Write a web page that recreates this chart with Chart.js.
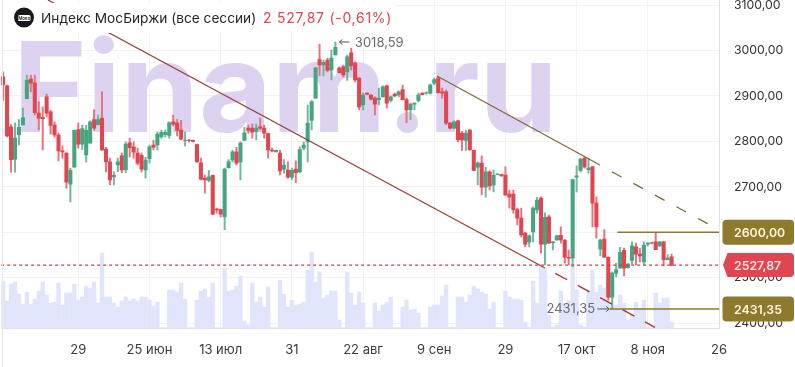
<!DOCTYPE html>
<html>
<head>
<meta charset="utf-8">
<title>Индекс МосБиржи</title>
<script src="https://cdn.jsdelivr.net/npm/chart.js@4/dist/chart.umd.min.js"></script>
<style>
html, body { margin: 0; padding: 0; background: #fff; }
canvas { display: block; }
</style>
</head>
<body>
<canvas id="candles" width="795" height="367"></canvas>
<script>
var opens = [
    2942,2922,2832,2761,2815,2836,2894,2937,2929,2862,
    2853,2898,2865,2836,2814,2779,2774,2706,2743,2826,
    2794,2770,2796,2848,2837,2851,2783,2755,2722,2748,
    2768,2738,2797,2788,2774,2769,2737,2762,2792,2792,
    2810,2815,2813,2843,2840,2825,2802,2803,2802,2793,
    2753,2719,2714,2725,2651,2650,2634,2742,2759,2777,
    2755,2802,2829,2829,2822,2832,2829,2817,2781,2777,
    2774,2739,2737,2721,2739,2733,2785,2799,2846,2895,
    2980,2968,2979,2957,2990,2961,2964,2953,2995,2972,
    2939,2880,2906,2902,2895,2892,2898,2922,2890,2904,
    2902,2914,2892,2870,2882,2890,2906,2906,2906,2928,
    2939,2909,2909,2840,2829,2845,2818,2802,2825,2780,
    2743,2752,2699,2733,2704,2727,2727,2726,2684,2684,
    2650,2631,2598,2579,2601,2649,2675,2574,2634,2577,
    2583,2593,2583,2545,2543,2721,2736,2763,2738,2744,
    2664,2563,2585,2545,2457,2510,2521,2560,2522,2538,
    2568,2552,2535,2574,2577,2579,2570,2579,2540,2546
];
var closes = [
    2924,2812,2760,2807,2831,2852,2934,2928,2863,2851,
    2850,2862,2835,2814,2779,2777,2710,2736,2824,2794,
    2828,2824,2843,2829,2848,2781,2755,2715,2725,2755,
    2737,2794,2786,2776,2752,2739,2759,2788,2787,2816,
    2820,2820,2841,2838,2824,2805,2803,2802,2800,2755,
    2717,2715,2722,2640,2649,2640,2739,2755,2777,2752,
    2796,2819,2824,2820,2829,2829,2818,2781,2779,2780,
    2735,2748,2721,2736,2731,2782,2792,2840,2887,2962,
    2968,2974,2956,2983,3007,2951,2946,2986,2966,2935,
    2876,2902,2904,2893,2882,2895,2920,2884,2898,2900,
    2909,2892,2869,2882,2884,2902,2903,2907,2924,2936,
    2907,2906,2840,2829,2843,2804,2803,2818,2781,2736,
    2752,2699,2733,2702,2725,2728,2724,2682,2677,2650,
    2631,2594,2574,2592,2653,2671,2574,2633,2576,2579,
    2592,2583,2545,2543,2716,2724,2761,2744,2741,2664,
    2612,2583,2545,2457,2510,2518,2556,2521,2530,2570,
    2552,2548,2572,2576,2576,2562,2579,2540,2543,2527.87
];
var highs = [
    2953,2924,2837,2840,2848,2873,2946,2946,2946,2887,
    2876,2904,2868,2843,2818,2790,2775,2741,2825,2840,
    2836,2835,2845,2870,2858,2909,2787,2763,2733,2763,
    2775,2799,2807,2799,2785,2774,2765,2792,2802,2821,
    2825,2825,2843,2858,2848,2846,2821,2804,2803,2794,
    2763,2726,2736,2726,2653,2651,2741,2760,2781,2787,
    2799,2831,2836,2838,2838,2851,2836,2818,2785,2781,
    2781,2760,2755,2741,2757,2788,2799,2880,2890,2963,
    3014,2979,2983,3001,3018.59,2964,2968,2990,3005,2975,
    2940,2906,2907,2903,2898,2917,2922,2924,2900,2906,
    2911,2924,2895,2884,2885,2906,2907,2909,2926,2939,
    2942,2917,2913,2842,2845,2847,2822,2825,2826,2781,
    2755,2768,2743,2735,2737,2729,2728,2744,2693,2693,
    2653,2653,2600,2594,2656,2677,2678,2643,2638,2580,
    2594,2612,2584,2561,2717,2746,2763,2765,2763,2745,
    2678,2585,2606,2546,2513,2532,2567,2565,2531,2579,
    2576,2565,2579,2577,2578,2600,2580,2580,2551,2552
];
var lows = [
    2890,2810,2732,2732,2792,2836,2894,2909,2858,2825,
    2781,2854,2816,2809,2757,2763,2697,2667,2743,2785,
    2782,2754,2796,2824,2836,2780,2733,2704,2704,2733,
    2731,2731,2766,2763,2748,2733,2719,2752,2781,2781,
    2807,2809,2807,2834,2812,2803,2790,2799,2799,2754,
    2715,2686,2711,2639,2642,2633,2606,2741,2755,2748,
    2715,2802,2818,2807,2803,2825,2807,2763,2777,2777,
    2726,2730,2719,2715,2709,2731,2781,2755,2825,2895,
    2944,2944,2953,2935,2990,2950,2942,2934,2957,2931,
    2869,2869,2902,2891,2858,2880,2898,2873,2887,2898,
    2898,2891,2841,2848,2869,2887,2902,2904,2904,2924,
    2906,2895,2837,2827,2827,2799,2780,2780,2781,2735,
    2704,2682,2677,2693,2689,2726,2723,2680,2653,2642,
    2616,2590,2568,2568,2579,2642,2554,2528,2576,2561,
    2582,2576,2532,2528,2524,2689,2733,2741,2730,2612,
    2587,2548,2544,2451,2431.35,2502,2521,2504,2521,2530,
    2528,2535,2528,2570,2575,2562,2569,2526,2539,2526
];
var volumes = [
    47,27,44,46,34,24,36,24,29,37,
    46,33,25,26,45,23,35,35,44,28,
    31,42,40,46,25,75,31,31,25,21,
    27,31,27,29,27,31,31,28,22,26,
    0.5,0.5,38,38,36,45,29,0.5,0.5,28,
    37,39,31,45,0.5,0.5,60,37,38,42,
    52,7,3,45,26,31,21,41,0.5,0.5,
    48,34,21,28,23,24,26,58,76,46,
    56,30,33,37,37,8,0.5,56,35,23,
    36,25,0.5,0.5,25,17,23,26,31,0.5,
    0.5,21,28,18,19,15,0.5,0.5,21,23,
    23,32,43,1,1,31,31,26,33,42,
    39,36,34,19,26,0.5,0.5,37,31,29,
    29,28,6,1,47,25,61,60,13,1,
    3,37,25,28,62,38,3,1,37,58,
    36,43,40,33,23,23,33,25,8,13,
    26,20,28,1,1,35,25,30,30,6
];

var xTickIndex = [19,37,55,73,91,109,127,145,163,181];
var xTickLabels = ['29','25 июн','13 июл','31','22 авг','9 сен','29','17 окт','8 ноя','26'];
var yTicks = [3100,3000,2900,2800,2700,2600,2500,2400];

// trend lines, as [bar index, price]
var redSolid = [[11.34,3111],[137,2521.4]];
var redDashed = [[139.6,2509.7],[164.8,2391]];
var brownSolid = [[109.7,2943.8],[150.9,2748]];
var brownDashed = [[153.9,2733.2],[179.2,2613.8]];
var resistance = [[155.3,2600],[181.1,2600]];
var support = [[153.4,2431.35],[181.1,2431.35]];

var lastPrice = 2527.87;
var highIndex = 84, highPrice = 3018.59;
var lowIndex = 154, lowPrice = 2431.35;

var RED = '#DF4650', GREEN = '#46A480';
var RED_WICK = '#E8717A', GREEN_WICK = '#6DB89C';
var OLIVE = '#8E7A2C';

function fmt(v){
    return v.toFixed(2).replace('.',',');
}

function points(pairs){
    return pairs.map(p => ({x:p[0],y:p[1]}));
}

function lineSet(pairs,color,width,dash){
    return {
        type:'line',
        data:points(pairs),
        borderColor:color,
        borderWidth:width,
        borderDash:dash || [],
        pointRadius:0,
        tension:0,
        order:1
    };
}

var up = opens.map((o,i) => closes[i] >= o);

var overlay = {
    id:'overlay',
    beforeDatasetsDraw(chart){
        var ctx = chart.ctx;
        ctx.save();
        ctx.fillStyle = '#DDD3F0';
        ctx.font = '700 125.6px Inter';
        ctx.textBaseline = 'alphabetic';
        ctx.fillText('Finam.ru',13,132);
        ctx.restore();
    },
    afterDraw(chart){
        var ctx = chart.ctx;
        var x = chart.scales.x, y = chart.scales.y;
        ctx.save();

        // left edge
        ctx.strokeStyle = '#E8E8F0';
        ctx.lineWidth = 1;
        ctx.beginPath();
        ctx.moveTo(2.5,0);
        ctx.lineTo(2.5,367);
        ctx.stroke();

        // header box over the lines
        ctx.fillStyle = '#fff';
        ctx.fillRect(3,3,393,30);
        ctx.fillStyle = '#17171c';
        ctx.beginPath();
        ctx.arc(24,17.5,10,0,Math.PI*2);
        ctx.fill();
        ctx.fillStyle = '#fff';
        ctx.beginPath();
        ctx.roundRect(18,15,12.5,6,1.5);
        ctx.fill();
        ctx.fillStyle = '#222';
        ctx.font = '600 4.5px Inter';
        ctx.textBaseline = 'middle';
        ctx.textAlign = 'center';
        ctx.fillText('Moex',24.2,18.2);

        ctx.textAlign = 'left';
        ctx.textBaseline = 'alphabetic';
        ctx.font = '13.7px Inter';
        ctx.fillStyle = '#26262c';
        ctx.fillText('Индекс МосБиржи (все сессии)',41,23);
        ctx.font = '14px Inter';
        ctx.letterSpacing = '0.72px';
        ctx.fillStyle = RED;
        ctx.fillText('2 527,87 (-0,61%)',263,23);
        ctx.letterSpacing = '0px';

        // high and low marks
        ctx.font = '13px Inter';
        ctx.textBaseline = 'middle';
        ctx.fillStyle = '#6b6b72';
        ctx.strokeStyle = '#55555c';
        var hx = x.getPixelForValue(highIndex), hy = y.getPixelForValue(highPrice);
        ctx.beginPath();
        ctx.moveTo(hx+14,hy);
        ctx.lineTo(hx+4,hy);
        ctx.moveTo(hx+7,hy-2.5);
        ctx.lineTo(hx+4,hy);
        ctx.lineTo(hx+7,hy+2.5);
        ctx.stroke();
        ctx.fillText(fmt(highPrice),hx+19.5,hy+1);

        var lx = x.getPixelForValue(lowIndex), ly = y.getPixelForValue(lowPrice);
        ctx.beginPath();
        ctx.moveTo(lx-15,ly);
        ctx.lineTo(lx-3,ly);
        ctx.moveTo(lx-6,ly-2.5);
        ctx.lineTo(lx-3,ly);
        ctx.lineTo(lx-6,ly+2.5);
        ctx.stroke();
        ctx.textAlign = 'right';
        ctx.fillText(fmt(lowPrice),lx-17,ly);

        // price tags on the axis
        ctx.textAlign = 'left';
        ctx.font = '600 12.3px Inter';
        [[2600,OLIVE],[lastPrice,RED],[2431.35,OLIVE]].forEach(t => {
            var py = y.getPixelForValue(t[0]);
            ctx.fillStyle = t[1];
            ctx.beginPath();
            if(t[1] == RED){
                ctx.moveTo(723,py);
                ctx.lineTo(727.5,py-12);
                ctx.lineTo(790,py-12);
                ctx.quadraticCurveTo(794,py-12,794,py-8);
                ctx.lineTo(794,py+8);
                ctx.quadraticCurveTo(794,py+12,790,py+12);
                ctx.lineTo(727.5,py+12);
                ctx.closePath();
            }else{
                ctx.roundRect(722.5,py-12.5,71.5,25,4);
            }
            ctx.fill();
            ctx.fillStyle = t[1] == RED ? '#FFE9EA' : '#FFF6DC';
            ctx.fillText(fmt(t[0]),734,py+1);
        });
        ctx.restore();
    }
};

var candleChart = new Chart(document.getElementById('candles').getContext('2d'), {
    type:'bar',
    data:{
        datasets:[
            {
                data:volumes.map((v,i) => ({x:i,y:v})),
                yAxisID:'vol',
                backgroundColor:'#E1E5FB',
                barThickness:3.7,
                grouped:false,
                order:5
            },
            {
                data:highs.map((h,i) => ({x:i,y:[lows[i],h]})),
                backgroundColor:up.map(u => u ? GREEN_WICK : RED_WICK),
                barThickness:1.3,
                grouped:false,
                order:3
            },
            {
                data:opens.map((o,i) => ({x:i,y:[o,closes[i]]})),
                backgroundColor:up.map(u => u ? GREEN : RED),
                barThickness:3.4,
                grouped:false,
                order:2
            },
            lineSet(redSolid,'#97403A',1.3),
            lineSet(redDashed,'#A93538',1.4,[13.5,12]),
            lineSet(brownSolid,'#836A38',1.3),
            lineSet(brownDashed,'#83653A',1.3,[11,13.5]),
            lineSet(resistance,OLIVE,1.4),
            lineSet(support,OLIVE,1.4),
            lineSet([[-0.5,lastPrice],[181.1,lastPrice]],'#D63A46',1.3,[3,3])
        ]
    },
    options:{
        responsive:false,
        animation:false,
        layout:{padding:{left:1.17,top:0,right:0,bottom:0}},
        plugins:{legend:{display:false},tooltip:{enabled:false}},
        scales:{
            x:{
                type:'linear',
                offset:false,
                min:-0.5,
                max:181.1,
                grid:{color:'#F1F1F6',drawTicks:false,offset:false},
                border:{display:true,color:'#DFE0EC'},
                ticks:{
                    autoSkip:false,
                    maxRotation:0,
                    padding:14,
                    color:'#3a3a40',
                    font:{family:'Inter',size:13},
                    callback:v => xTickLabels[xTickIndex.indexOf(v)]
                },
                afterBuildTicks:s => { s.ticks = xTickIndex.map(v => ({value:v})); },
                afterFit:s => { s.height = 39; s.paddingLeft = 0; s.paddingRight = 0; }
            },
            y:{
                position:'right',
                min:2389.4,
                max:3111,
                grid:{color:'#F1F1F6',drawTicks:false},
                border:{display:true,color:'#DFE0EC'},
                ticks:{
                    padding:14.5,
                    color:'#333338',
                    font:{family:'Inter',size:12.3},
                    callback:v => fmt(v)
                },
                afterBuildTicks:s => { s.ticks = yTicks.map(v => ({value:v})); },
                afterFit:s => { s.width = 75.6; s.paddingTop = 0; s.paddingBottom = 0; }
            },
            vol:{
                display:false,
                min:0,
                max:328
            }
        }
    },
    plugins:[overlay]
});
</script>
</body>
</html>
